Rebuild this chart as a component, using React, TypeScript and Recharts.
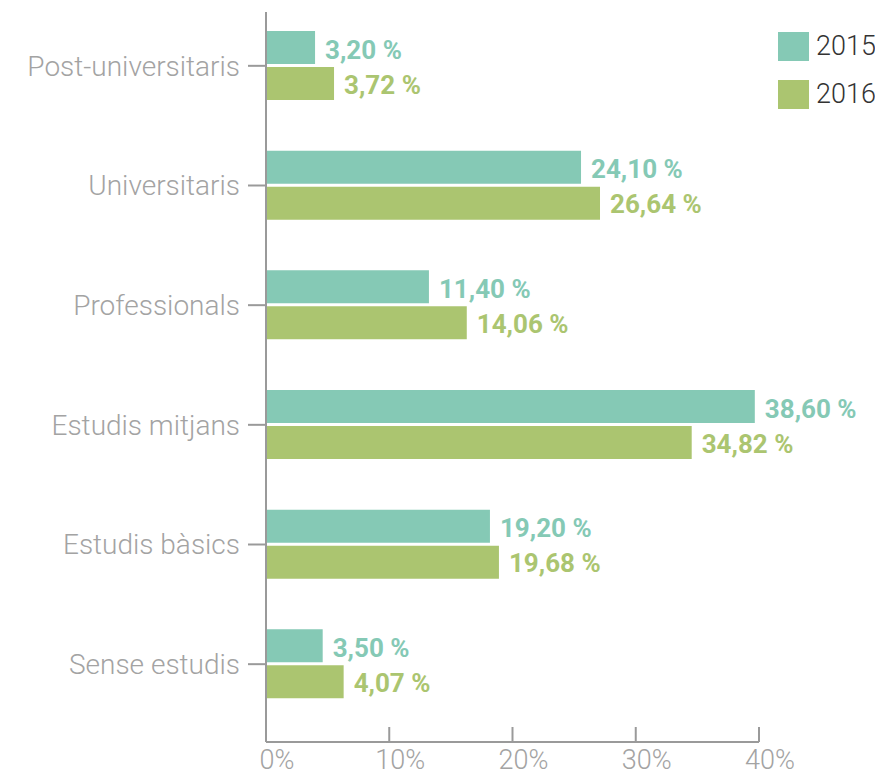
import React from 'react';
import { BarChart, Bar, XAxis, YAxis, LabelList } from 'recharts';

const categories = ['Post-universitaris', 'Universitaris', 'Professionals', 'Estudis mitjans', 'Estudis bàsics', 'Sense estudis'];
// bar lengths as drawn (percent of axis)
const bars2015 = [3.98, 25.56, 13.22, 39.66, 18.17, 4.6];
const bars2016 = [5.52, 27.1, 16.29, 34.54, 18.9, 6.3];
// printed value labels
const labels2015 = ['3,20 %', '24,10 %', '11,40 %', '38,60 %', '19,20 %', '3,50 %'];
const labels2016 = ['3,72 %', '26,64 %', '14,06 %', '34,82 %', '19,68 %', '4,07 %'];
const xTicks = [0, 10, 20, 30, 40];
const seriesNames = ['2015', '2016'];

const C2015 = '#85C9B5';
const C2016 = '#ABC570';
const AXIS = '#9a9a9a';
const TEXT = '#a3a3a3';
const FONT = 'Roboto, "Noto Sans", sans-serif';

const data = categories.map((name, i) => ({
  name,
  v2015: bars2015[i],
  v2016: bars2016[i],
  l2015: labels2015[i],
  l2016: labels2016[i],
}));

const XTick = (props: any) => {
  const { x, y, payload } = props;
  return (
    <g>
      <line x1={x} y1={y - 15} x2={x} y2={y} stroke={AXIS} strokeWidth={2} />
      <text x={x + 11} y={y + 27} textAnchor="middle" fill={TEXT} fontSize={27} fontWeight={300} fontFamily={FONT}>
        {payload.value + '%'}
      </text>
    </g>
  );
};

const LegendBox = () => (
  <div style={{ position: 'absolute', left: 770, top: 24, fontFamily: FONT }}>
    {seriesNames.map((n, i) => (
      <div key={n} style={{ display: 'flex', alignItems: 'center', height: 29, marginBottom: 19 }}>
        <div style={{ width: 31, height: 29, background: i === 0 ? C2015 : C2016 }} />
        <span style={{ marginLeft: 7, fontSize: 27, fontWeight: 300, color: '#333', lineHeight: '29px' }}>{n}</span>
      </div>
    ))}
  </div>
);

export default function App() {
  return (
    <div style={{ position: 'relative', width: 875, height: 767 }}>
      <BarChart
        width={875}
        height={767}
        data={data}
        layout="vertical"
        margin={{ top: 4, right: 124, bottom: 0, left: 0 }}
        barSize={33}
        barGap={3}
      >
        <XAxis
          type="number"
          domain={[0, 40]}
          ticks={xTicks}
          height={33}
          axisLine={{ stroke: AXIS, strokeWidth: 2 }}
          tickLine={false}
          tickSize={0}
          tickMargin={0}
          tick={<XTick />}
          interval={0}
        />
        <YAxis
          type="category"
          dataKey="name"
          width={258}
          padding={{ top: -6, bottom: 18 }}
          axisLine={{ stroke: AXIS, strokeWidth: 2 }}
          tickLine={{ stroke: AXIS, strokeWidth: 2 }}
          tickSize={18}
          tickMargin={8}
          tick={{ fill: TEXT, fontSize: 28, fontWeight: 300, fontFamily: FONT }}
          interval={0}
        />
        <Bar dataKey="v2015" fill={C2015} isAnimationActive={false}>
          <LabelList dataKey="l2015" position="right" offset={10} dy={2} fill={C2015} fontSize={26} fontWeight={700} fontFamily={FONT} />
        </Bar>
        <Bar dataKey="v2016" fill={C2016} isAnimationActive={false}>
          <LabelList dataKey="l2016" position="right" offset={10} dy={1} fill={C2016} fontSize={26} fontWeight={700} fontFamily={FONT} />
        </Bar>
      </BarChart>
      <LegendBox />
    </div>
  );
}
